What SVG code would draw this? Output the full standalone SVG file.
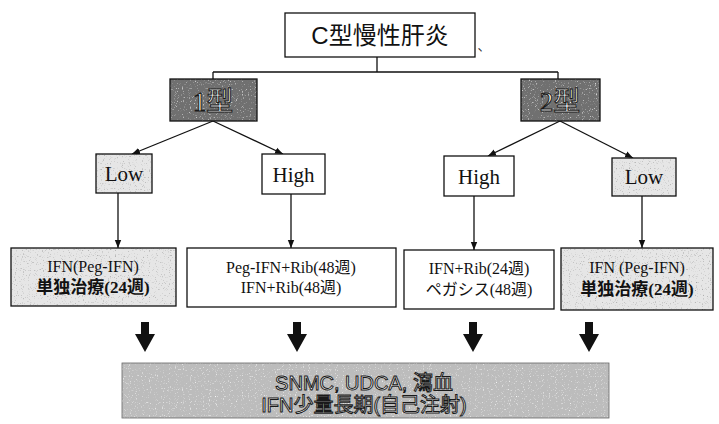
<svg xmlns="http://www.w3.org/2000/svg" width="719" height="424" viewBox="0 0 719 424">
<style>
.box{stroke:#111;stroke-width:1.3;}
.white{fill:#fff;}
.serif{font-family:"Liberation Serif","Noto Sans CJK JP",serif;fill:#111;text-anchor:middle;}
.sans{font-family:"Liberation Sans","Noto Sans CJK JP",sans-serif;text-anchor:middle;}
.outl{fill:#ffffff;stroke:#1a1a1a;stroke-width:1;}
.ln{stroke:#111;stroke-width:1.3;fill:none;}
</style>
<defs>
<filter id="speck" x="0" y="0" width="100%" height="100%">
<feTurbulence type="fractalNoise" baseFrequency="0.85" numOctaves="1" seed="3" result="n"/>
<feColorMatrix in="n" type="matrix" values="0 0 0 0 0.35  0 0 0 0 0.35  0 0 0 0 0.35  4 0 0 0 -2.4" result="dots"/>
<feComposite in="dots" in2="SourceAlpha" operator="in"/>
</filter>
<filter id="speckW" x="0" y="0" width="100%" height="100%">
<feTurbulence type="fractalNoise" baseFrequency="0.85" numOctaves="1" seed="9" result="n"/>
<feColorMatrix in="n" type="matrix" values="0 0 0 0 0.95  0 0 0 0 0.95  0 0 0 0 0.95  4 0 0 0 -2.4" result="dots"/>
<feComposite in="dots" in2="SourceAlpha" operator="in"/>
</filter>
<marker id="ah" viewBox="0 0 10 10" refX="10" refY="5" markerWidth="8" markerHeight="8" markerUnits="userSpaceOnUse" orient="auto">
<path d="M0,1 L10,5 L0,9 Z" fill="#111"/>
</marker>
<path id="bigArrow" d="M-4,0 L4,0 L4,12 L10,12 L0,30 L-10,12 L-4,12 Z" fill="#111"/>
</defs>

<g id="connectors">
<path class="ln" d="M377,57 V72 M213,72 H558 M213,72 V79 M558,72 V79"/>
<line class="ln" x1="213" y1="121" x2="132" y2="154" marker-end="url(#ah)"/>
<line class="ln" x1="213" y1="121" x2="283" y2="154" marker-end="url(#ah)"/>
<line class="ln" x1="560" y1="121" x2="488" y2="156" marker-end="url(#ah)"/>
<line class="ln" x1="560" y1="121" x2="633" y2="158" marker-end="url(#ah)"/>
<line class="ln" x1="118" y1="193" x2="118" y2="248" marker-end="url(#ah)"/>
<line class="ln" x1="291" y1="194" x2="291" y2="248" marker-end="url(#ah)"/>
<line class="ln" x1="474" y1="196" x2="474" y2="250" marker-end="url(#ah)"/>
<line class="ln" x1="642" y1="196" x2="642" y2="248" marker-end="url(#ah)"/>
<use href="#bigArrow" x="145" y="322"/>
<use href="#bigArrow" x="297" y="322"/>
<use href="#bigArrow" x="473" y="322"/>
<use href="#bigArrow" x="589" y="322"/>
</g>

<g id="root">
<rect class="box white" x="285" y="13" width="190" height="44"/>
<text class="sans" x="380" y="44" font-size="24" fill="#111">C型慢性肝炎</text>
<text class="sans" x="484" y="50" font-size="13" fill="#333">、</text>
</g>

<g id="type1">
<rect x="170" y="79" width="87" height="42" fill="#707070"/>
<rect x="170" y="79" width="87" height="42" filter="url(#speckW)"/>
<rect class="box" x="170" y="79" width="87" height="42" fill="none"/>
<text class="serif outl" x="213" y="111" font-size="27">1型</text>
</g>

<g id="type2">
<rect x="521" y="79" width="79" height="42" fill="#707070"/>
<rect x="521" y="79" width="79" height="42" filter="url(#speckW)"/>
<rect class="box" x="521" y="79" width="79" height="42" fill="none"/>
<text class="serif outl" x="560" y="111" font-size="27">2型</text>
</g>

<g id="low1">
<rect x="96" y="154" width="56" height="39" fill="#e6e6e6"/>
<rect x="96" y="154" width="56" height="39" filter="url(#speck)"/>
<rect class="box" x="96" y="154" width="56" height="39" fill="none"/>
<text class="serif" x="124" y="181" font-size="21">Low</text>
</g>

<g id="high1">
<rect class="box white" x="262" y="154" width="63" height="40"/>
<text class="serif" x="293.500" y="182" font-size="21">High</text>
</g>

<g id="high2">
<rect class="box white" x="444" y="156" width="70" height="40"/>
<text class="serif" x="479" y="184" font-size="21">High</text>
</g>

<g id="low2">
<rect x="612" y="158" width="64" height="38" fill="#e6e6e6"/>
<rect x="612" y="158" width="64" height="38" filter="url(#speck)"/>
<rect class="box" x="612" y="158" width="64" height="38" fill="none"/>
<text class="serif" x="644" y="184" font-size="21">Low</text>
</g>

<g id="treat1">
<rect x="11" y="248" width="165" height="58" fill="#e6e6e6"/>
<rect x="11" y="248" width="165" height="58" filter="url(#speck)"/>
<rect class="box" x="11" y="248" width="165" height="58" fill="none"/>
<text class="serif" x="93" y="272" font-size="16">IFN(Peg-IFN)</text>
<text class="serif" x="93" y="293" font-size="17" font-weight="bold">単独治療(24週)</text>
</g>

<g id="treat2">
<rect class="box white" x="187" y="248" width="209" height="59"/>
<text class="serif" x="291" y="273" font-size="16">Peg-IFN+Rib(48週)</text>
<text class="serif" x="291" y="293" font-size="16">IFN+Rib(48週)</text>
</g>

<g id="treat3">
<rect class="box white" x="404" y="250" width="150" height="59"/>
<text class="serif" x="479" y="274" font-size="16">IFN+Rib(24週)</text>
<text class="serif" x="479" y="295" font-size="16">ペガシス(48週)</text>
</g>

<g id="treat4">
<rect x="561" y="248" width="152" height="62" fill="#e6e6e6"/>
<rect x="561" y="248" width="152" height="62" filter="url(#speck)"/>
<rect class="box" x="561" y="248" width="152" height="62" fill="none"/>
<text class="serif" x="637" y="273" font-size="16">IFN (Peg-IFN)</text>
<text class="serif" x="637" y="295" font-size="17" font-weight="bold">単独治療(24週)</text>
</g>

<g id="bottom">
<rect x="122" y="363" width="487" height="55" fill="#bcbcbc"/>
<rect x="122" y="363" width="487" height="55" filter="url(#speckW)"/>
<rect x="122" y="363" width="487" height="55" fill="none" stroke="#666" stroke-width="0.8"/>
<text class="sans outl" x="364" y="390" font-size="20">SNMC, UDCA, 瀉血</text>
<text class="sans outl" x="364" y="412" font-size="20">IFN少量長期(自己注射)</text>
</g>
</svg>
